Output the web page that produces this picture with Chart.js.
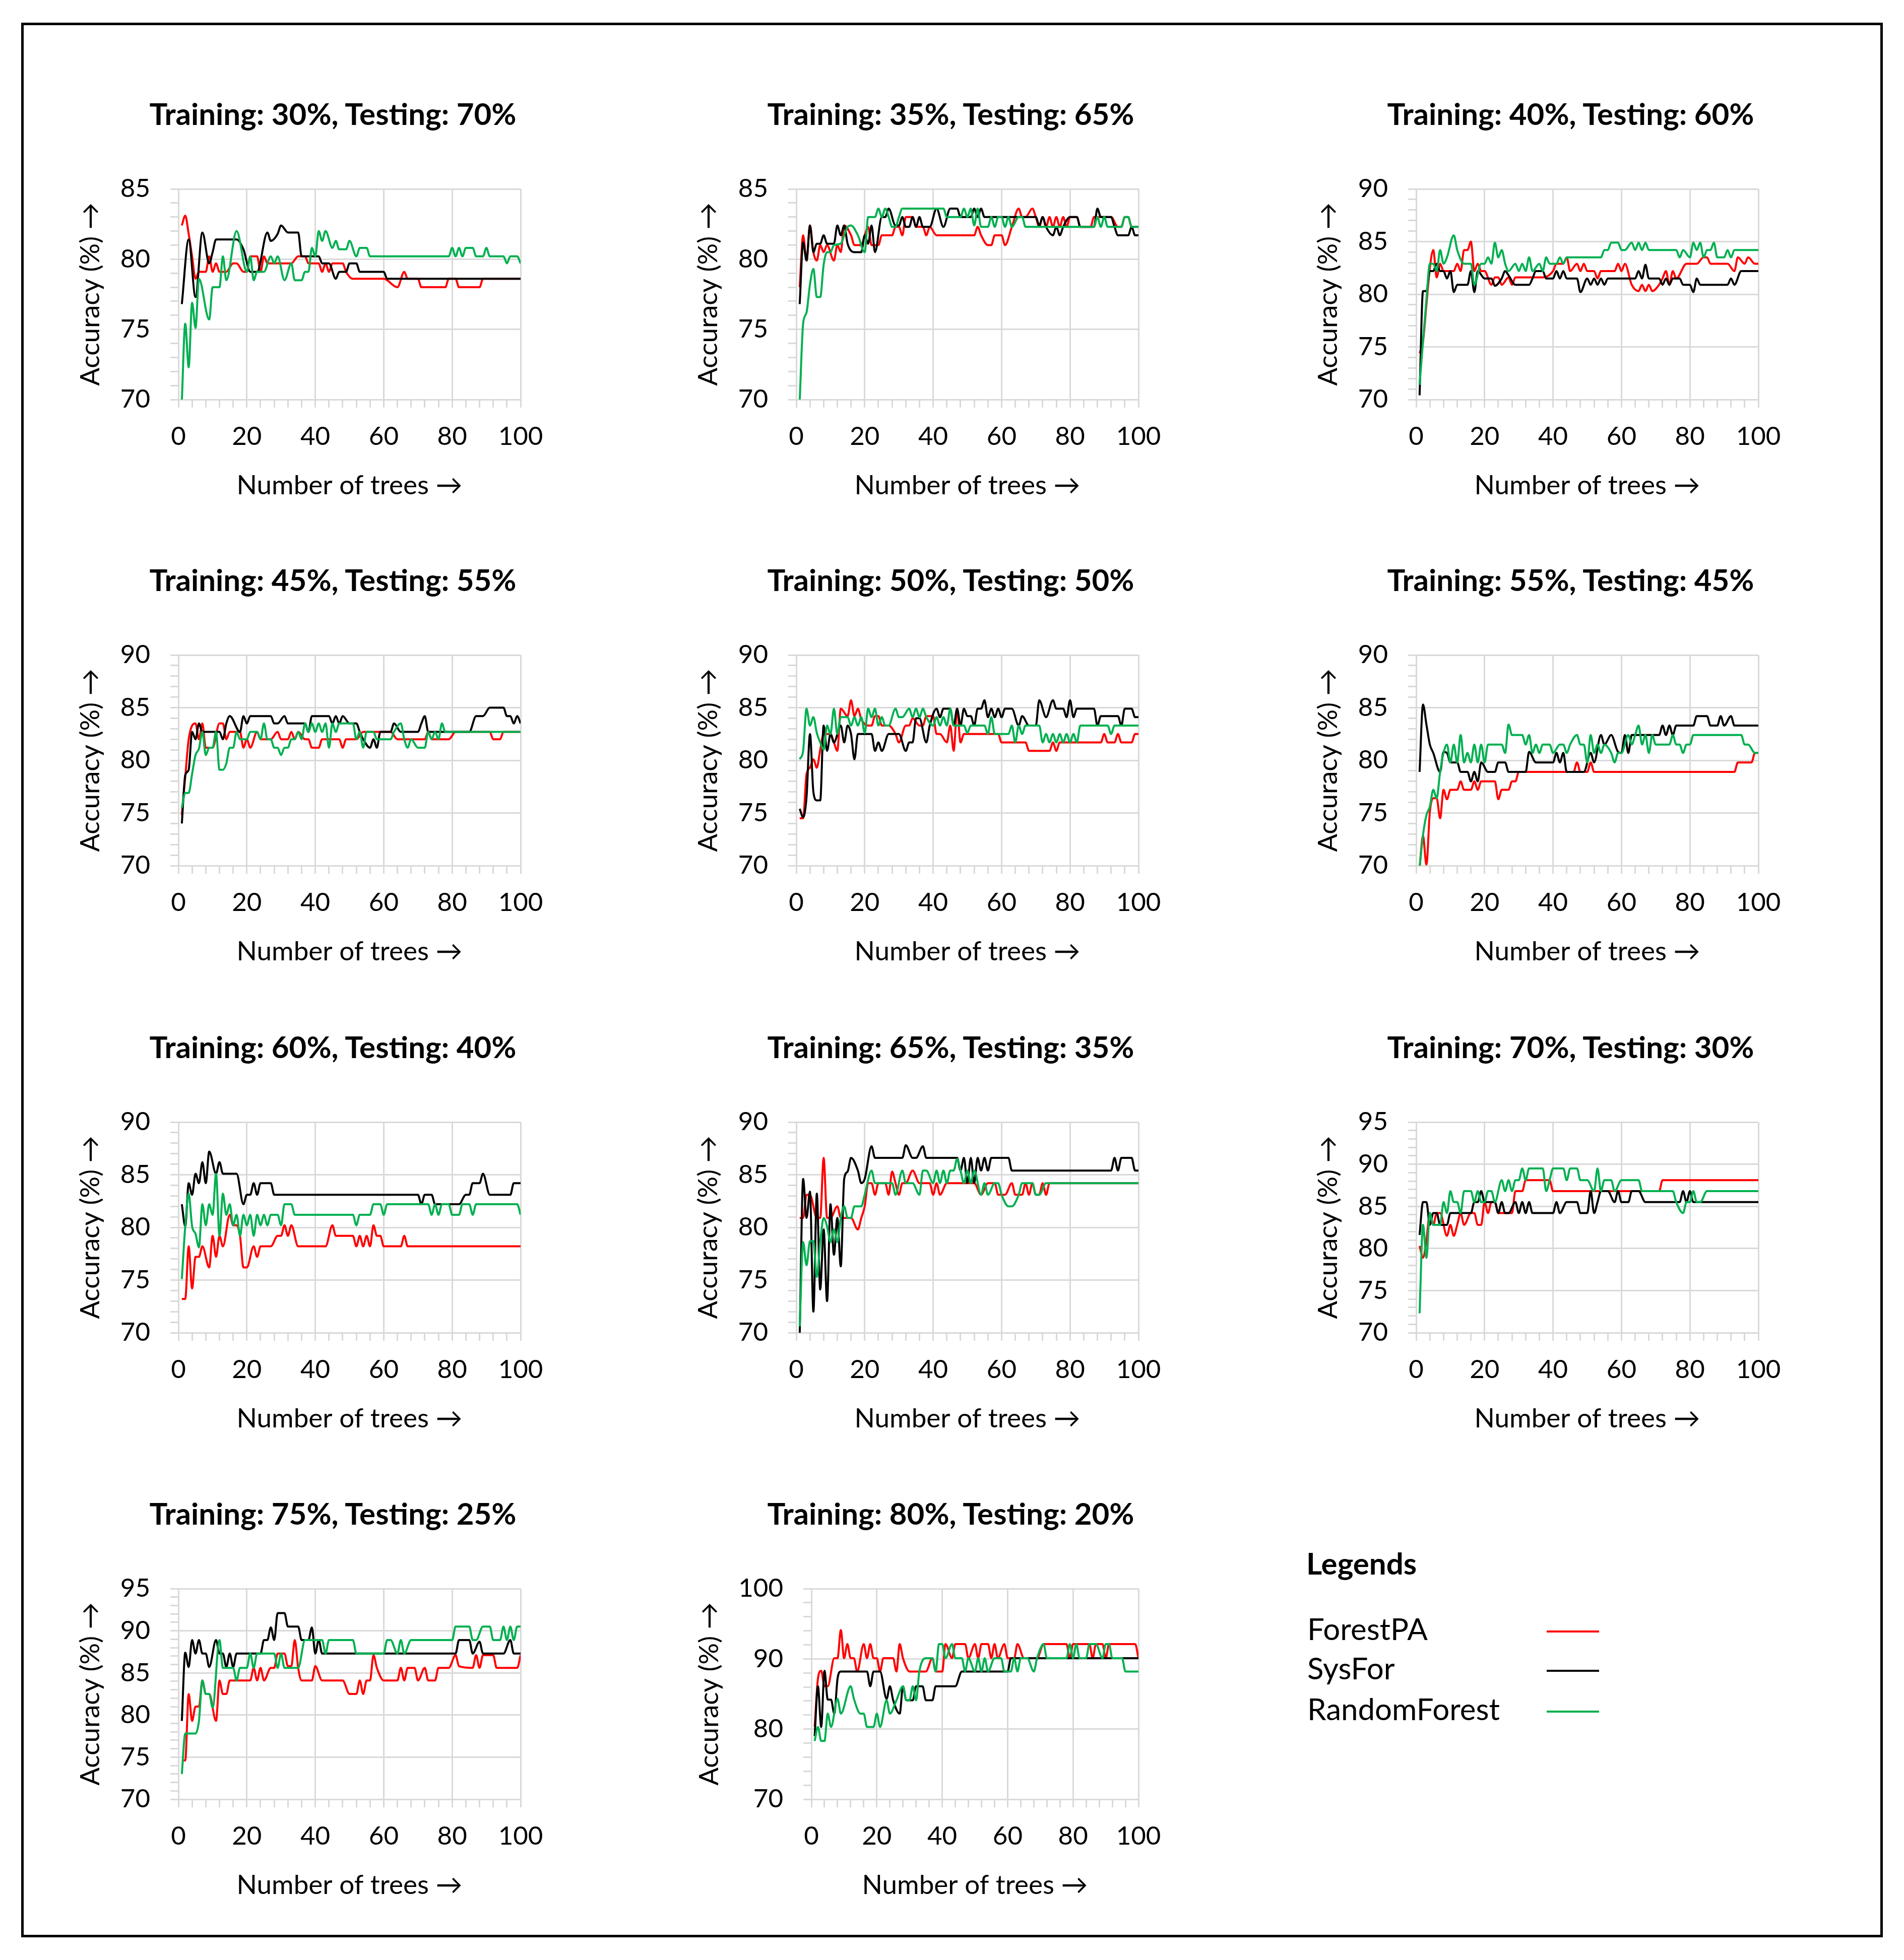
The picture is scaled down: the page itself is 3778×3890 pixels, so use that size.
<!DOCTYPE html>
<html>
<head>
<meta charset="utf-8">
<script src="https://cdn.jsdelivr.net/npm/chart.js@4.4.1/dist/chart.umd.min.js"></script>
<style>
  html, body { margin: 0; padding: 0; background: #fff; }
  body { width: 3778px; height: 3890px; position: relative; overflow: hidden; font-family: Lato, "DejaVu Sans", sans-serif; }
  #frame { position: absolute; left: 42px; top: 45px; width: 3694px; height: 3800px; box-sizing: border-box; border: 5px solid #000; }
  canvas { position: absolute; }
  .ptitle { position: absolute; width: 1000px; text-align: center; font-weight: 700; font-size: 60px; line-height: 72px; color: #000; white-space: nowrap; }
  .lgtext { position: absolute; font-size: 60px; line-height: 72px; color: #000; white-space: nowrap; }
  .lgline { position: absolute; height: 4px; }
</style>
</head>
<body>
<div id="frame"></div>
<script>
// series names and colours
const seriesNames = ["ForestPA", "SysFor", "RandomForest"];
const seriesColors = ["#ff0000", "#000000", "#00b050"];

const splitTitles = [
  "Training: 30%, Testing: 70%", "Training: 35%, Testing: 65%", "Training: 40%, Testing: 60%",
  "Training: 45%, Testing: 55%", "Training: 50%, Testing: 50%", "Training: 55%, Testing: 45%",
  "Training: 60%, Testing: 40%", "Training: 65%, Testing: 35%", "Training: 70%, Testing: 30%",
  "Training: 75%, Testing: 25%", "Training: 80%, Testing: 20%"
];
const yMins = [70, 70, 70, 70, 70, 70, 70, 70, 70, 70, 70];
const yMaxes = [85, 85, 90, 90, 90, 90, 90, 90, 95, 95, 100];
const yMajorSteps = [5, 5, 5, 5, 5, 5, 5, 5, 5, 5, 10];
const yMinorSteps = [1, 1, 1, 1, 1, 1, 1, 1, 1, 1, 2];

// [number of trees, accuracy %]
const forestPA30 = [[1,82.4],[2,83.1],[3,81.8],[4,80.2],[5,78.6],[6,79.1],[8,79.1],[9,80.2],[10,79.1],[11,79.7],[12,79.1],[14,79.1],[16,79.7],[17,79.7],[19,79.1],[20,79.1],[21,80.2],[23,80.2],[24,79.1],[25,80.2],[26,79.7],[33,79.7],[35,80.2],[37,80.2],[38,79.7],[41,79.7],[42,79.1],[43,79.7],[44,79.1],[45,79.7],[48,79.7],[49,79.1],[51,78.6],[60,78.6],[64,78.0],[66,79.1],[67,78.6],[70,78.6],[71,78.0],[78,78.0],[79,78.6],[81,78.6],[82,78.0],[88,78.0],[89,78.6],[100,78.6]];
const sysFor30 = [[1,76.8],[3,81.4],[5,77.3],[7,81.9],[9,79.7],[10,80.5],[11,81.4],[17,81.4],[19,80.7],[21,79.1],[23,79.1],[26,81.9],[27,81.3],[29,81.8],[30,82.4],[32,81.9],[35,81.9],[36,80.2],[41,80.2],[42,79.7],[44,79.7],[46,78.6],[47,79.1],[49,79.1],[50,79.7],[52,79.7],[53,79.1],[60,79.1],[61,78.6],[100,78.6]];
const randomForest30 = [[1,69.9],[2,75.4],[3,72.3],[4,76.9],[5,75.1],[6,78.6],[9,75.7],[10,78.0],[12,78.0],[13,80.2],[14,78.5],[17,82.0],[20,79.1],[21,80.2],[22,78.5],[23,79.1],[25,79.1],[27,80.2],[28,79.7],[29,80.2],[31,78.5],[33,79.7],[34,78.5],[36,78.5],[37,79.1],[38,79.1],[39,80.8],[40,80.2],[41,82.0],[42,81.3],[43,82.0],[45,80.8],[46,81.3],[47,80.7],[49,80.7],[50,81.3],[52,80.2],[53,80.8],[55,80.8],[56,80.2],[79,80.2],[80,80.8],[81,80.2],[82,80.8],[83,80.2],[84,80.8],[86,80.8],[87,80.2],[89,80.2],[90,80.8],[91,80.2],[95,80.2],[96,79.7],[97,80.2],[99,80.2],[100,79.7]];

const forestPA35 = [[1,78.0],[2,81.7],[3,79.9],[4,82.4],[5,80.5],[6,79.9],[7,81.0],[8,80.5],[9,81.0],[11,79.9],[12,81.0],[13,80.5],[14,82.4],[16,81.7],[17,81.0],[19,81.0],[20,81.7],[21,82.3],[22,81.0],[24,81.0],[25,81.7],[28,81.7],[29,82.3],[30,82.3],[31,81.7],[32,83.0],[34,83.0],[35,82.3],[37,82.3],[38,81.7],[39,82.3],[41,81.7],[52,81.7],[53,82.3],[54,81.7],[56,81.0],[57,81.0],[58,81.7],[60,81.7],[61,81.0],[63,82.3],[65,83.6],[66,83.0],[67,83.0],[69,83.6],[70,83.0],[71,82.3],[72,83.0],[73,82.3],[74,83.0],[75,82.3],[76,83.0],[77,82.3],[78,83.0],[79,82.3],[80,83.0],[82,83.0],[83,82.3],[86,82.3],[87,83.0],[92,83.0],[94,82.3],[95,82.3],[96,83.0],[97,83.0],[98,82.3],[100,82.3]];
const sysFor35 = [[1,76.8],[2,81.2],[3,79.9],[4,82.4],[5,80.5],[6,81.1],[7,81.1],[8,81.7],[9,81.1],[11,81.1],[12,82.4],[13,81.7],[14,82.4],[15,81.1],[17,80.5],[19,80.5],[20,81.7],[21,81.1],[22,82.4],[23,80.5],[25,83.0],[26,83.0],[27,83.6],[29,82.4],[30,82.4],[31,83.0],[32,82.3],[33,82.3],[34,83.0],[35,82.3],[36,83.0],[37,82.3],[39,82.3],[41,83.6],[43,82.3],[45,83.6],[47,83.6],[48,83.0],[51,83.0],[52,83.6],[53,83.0],[54,83.6],[55,83.0],[70,83.0],[71,82.4],[72,83.0],[73,82.3],[75,81.7],[76,82.3],[77,81.7],[78,82.3],[80,83.0],[82,83.0],[83,82.3],[87,82.3],[88,83.6],[89,83.0],[92,83.0],[93,82.3],[94,81.7],[97,81.7],[98,82.3],[99,81.7],[100,81.7]];
const randomForest35 = [[1,69.9],[2,75.4],[3,76.2],[4,78.2],[5,79.3],[6,77.3],[7,77.3],[8,79.6],[9,80.5],[10,80.5],[11,81.0],[13,81.1],[14,81.7],[15,82.3],[16,82.4],[18,81.7],[20,80.5],[21,83.0],[23,83.0],[24,83.6],[25,83.0],[26,83.6],[27,83.0],[28,82.3],[29,82.3],[30,83.0],[31,83.6],[43,83.6],[44,83.0],[48,83.0],[49,83.6],[50,83.0],[51,83.6],[52,82.4],[53,83.6],[54,82.3],[56,82.3],[57,83.0],[58,82.3],[59,83.0],[60,83.0],[61,82.3],[62,83.0],[63,82.3],[65,83.0],[66,83.0],[67,82.3],[87,82.3],[88,83.0],[89,82.3],[90,83.0],[91,82.3],[95,82.3],[96,83.0],[97,83.0],[98,82.3],[100,82.3]];

const forestPA40 = [[1,74.4],[2,75.5],[3,79.0],[4,82.5],[5,84.2],[6,81.6],[7,82.9],[8,82.2],[11,82.2],[12,82.9],[13,82.2],[14,84.2],[15,84.2],[16,85.0],[17,82.2],[18,82.9],[19,82.2],[20,82.2],[22,80.9],[23,81.6],[24,81.6],[25,80.9],[27,81.6],[28,80.9],[29,81.6],[37,81.6],[40,82.2],[41,82.9],[43,82.9],[44,83.5],[45,82.2],[47,82.9],[48,82.2],[49,82.9],[50,82.2],[52,82.2],[53,81.5],[54,82.2],[58,82.2],[59,82.9],[60,82.2],[61,82.9],[63,80.9],[65,80.3],[66,80.9],[67,80.3],[68,80.9],[69,80.3],[71,80.9],[72,81.5],[73,82.2],[74,80.9],[75,82.2],[76,81.5],[79,82.9],[82,82.9],[84,83.5],[85,83.5],[86,82.9],[91,82.9],[93,82.2],[94,83.5],[96,82.9],[97,83.5],[99,82.9],[100,82.9]];
const sysFor40 = [[1,70.4],[2,80.3],[3,80.3],[4,82.2],[5,82.2],[6,82.9],[7,82.2],[8,82.2],[9,81.5],[10,82.2],[11,80.2],[12,80.9],[15,80.9],[16,82.2],[17,80.2],[18,82.2],[20,81.5],[22,81.5],[23,80.8],[25,81.5],[26,82.2],[27,81.8],[29,80.9],[33,80.9],[34,81.5],[35,82.2],[37,82.2],[38,81.5],[40,81.5],[41,82.2],[42,81.5],[43,82.2],[44,81.5],[47,81.5],[48,80.2],[50,81.5],[51,80.9],[52,81.5],[53,80.9],[54,81.5],[55,80.9],[56,81.5],[64,81.5],[65,82.2],[66,81.5],[67,82.8],[68,81.5],[71,81.5],[72,80.9],[73,81.5],[74,80.9],[75,81.5],[77,81.5],[78,80.9],[80,80.9],[81,80.2],[82,81.5],[83,80.9],[91,80.9],[92,81.5],[93,80.9],[95,82.2],[100,82.2]];
const randomForest40 = [[1,71.4],[2,75.5],[3,79.5],[4,82.9],[5,82.9],[6,82.2],[7,84.2],[8,82.9],[9,83.5],[11,85.6],[12,84.2],[14,82.9],[16,82.9],[17,80.9],[19,82.9],[20,82.9],[21,83.5],[22,82.9],[23,84.9],[24,83.5],[25,84.2],[26,82.9],[27,82.2],[29,82.9],[30,82.2],[31,82.9],[32,82.2],[33,83.5],[34,82.2],[36,82.9],[37,82.2],[38,83.5],[39,82.9],[41,82.9],[42,83.5],[43,82.9],[44,83.5],[54,83.5],[55,84.2],[56,84.2],[57,84.9],[59,84.9],[60,84.2],[61,84.2],[63,84.9],[64,84.2],[65,84.9],[66,84.2],[67,84.9],[68,84.2],[76,84.2],[77,83.5],[78,84.2],[80,83.5],[81,84.9],[82,84.2],[83,84.9],[84,83.5],[85,84.2],[86,84.2],[87,84.9],[88,83.5],[90,83.5],[91,84.2],[92,83.5],[93,84.2],[100,84.2]];

const forestPA45 = [[1,74.8],[2,78.4],[3,82.0],[5,83.5],[6,82.0],[7,83.5],[8,81.2],[10,81.2],[12,83.5],[13,83.5],[14,82.0],[15,82.7],[18,82.7],[19,81.2],[20,82.0],[21,81.2],[23,82.7],[24,82.0],[27,82.0],[29,82.7],[30,82.0],[32,82.0],[33,82.7],[34,82.0],[35,82.7],[37,82.0],[38,82.0],[39,81.2],[41,81.2],[42,82.0],[47,82.0],[48,81.2],[49,82.0],[52,82.0],[54,82.7],[62,82.7],[64,82.0],[72,82.0],[73,82.7],[74,82.0],[79,82.0],[81,82.7],[91,82.7],[92,82.0],[94,82.0],[95,82.7],[100,82.7]];
const sysFor45 = [[1,74.0],[2,78.6],[3,79.1],[4,82.7],[5,82.0],[6,83.5],[7,82.7],[12,82.7],[13,82.0],[14,83.5],[15,84.2],[18,82.7],[19,84.2],[20,83.5],[21,84.2],[27,84.2],[28,83.5],[29,83.5],[31,84.2],[32,83.5],[37,83.5],[38,82.7],[39,84.2],[44,84.2],[45,83.5],[46,84.2],[47,83.5],[48,84.2],[50,83.5],[52,83.5],[53,82.7],[54,82.0],[56,81.2],[57,82.0],[58,81.2],[59,82.7],[62,82.7],[63,83.5],[65,82.7],[70,82.7],[71,83.5],[72,84.2],[73,82.7],[85,82.7],[87,84.2],[89,84.2],[91,85.0],[95,85.0],[96,84.2],[97,84.2],[98,83.5],[99,84.2],[100,83.5]];
const randomForest45 = [[1,75.5],[2,76.9],[3,76.9],[4,78.7],[5,80.5],[6,81.1],[7,82.7],[8,80.5],[9,81.2],[10,81.2],[11,82.7],[12,79.1],[13,79.1],[14,79.7],[15,81.2],[16,81.2],[17,82.7],[18,82.0],[20,82.0],[21,82.7],[23,82.7],[24,82.0],[25,83.5],[26,82.0],[27,82.0],[28,81.2],[29,81.2],[30,80.5],[31,81.2],[32,81.2],[33,82.0],[34,82.0],[35,82.7],[36,82.0],[37,83.5],[38,82.7],[39,83.5],[40,82.7],[41,83.5],[42,82.7],[43,83.5],[44,81.2],[45,83.5],[46,82.7],[47,83.5],[51,83.5],[52,82.0],[53,82.7],[54,81.2],[55,82.7],[57,82.7],[58,82.0],[62,82.0],[63,82.7],[65,83.5],[66,82.0],[67,81.2],[68,82.0],[70,81.2],[72,81.2],[73,82.7],[74,82.0],[75,82.7],[76,82.0],[77,83.5],[78,82.7],[100,82.7]];

const forestPA50 = [[1,74.5],[2,74.5],[3,78.7],[4,79.3],[5,80.1],[6,79.3],[7,81.0],[8,82.5],[10,82.5],[11,81.7],[12,80.9],[13,84.9],[15,84.2],[16,85.7],[17,84.2],[18,84.9],[19,83.9],[21,83.3],[22,83.3],[23,84.2],[24,84.2],[25,83.3],[27,83.3],[29,82.5],[30,81.7],[32,83.3],[33,83.3],[34,84.0],[36,83.3],[37,83.3],[38,84.2],[40,84.2],[41,82.5],[42,82.5],[44,81.7],[45,83.3],[46,80.9],[47,84.9],[48,81.7],[49,82.5],[59,82.5],[60,81.7],[67,81.7],[68,80.9],[74,80.9],[75,81.7],[76,80.9],[77,81.7],[89,81.7],[90,82.5],[91,81.7],[93,81.7],[94,82.5],[95,81.7],[98,81.7],[99,82.5],[100,82.5]];
const sysFor50 = [[1,75.4],[2,74.6],[3,76.5],[4,82.5],[5,77.0],[6,76.2],[7,76.2],[8,83.3],[9,80.9],[10,82.5],[11,81.7],[13,83.3],[14,81.7],[15,83.3],[16,82.5],[17,80.1],[18,82.5],[22,82.5],[23,80.9],[24,81.7],[25,80.9],[27,82.5],[30,82.5],[32,80.9],[33,81.7],[34,81.7],[35,84.0],[36,84.0],[38,81.7],[39,83.3],[41,84.9],[42,84.1],[43,84.9],[45,84.9],[46,83.3],[47,84.9],[48,83.3],[49,84.9],[50,84.2],[51,84.2],[52,83.3],[53,84.9],[54,84.9],[55,85.7],[56,84.1],[57,84.9],[58,84.1],[59,84.9],[60,84.1],[61,84.9],[63,84.9],[65,83.3],[66,84.2],[68,83.3],[70,83.3],[71,85.7],[73,84.1],[75,85.7],[76,84.9],[78,84.9],[79,84.1],[80,85.7],[81,84.1],[82,84.9],[87,84.9],[88,83.3],[89,84.2],[94,84.2],[95,83.3],[96,84.9],[98,84.9],[99,84.1],[100,84.1]];
const randomForest50 = [[1,80.1],[2,80.9],[3,84.9],[4,83.3],[5,84.1],[6,82.6],[7,81.7],[8,81.0],[9,83.3],[10,82.5],[11,84.9],[12,82.5],[13,84.1],[15,84.1],[16,83.3],[17,84.1],[18,83.3],[19,84.1],[20,82.6],[21,84.9],[22,84.1],[23,84.9],[24,83.3],[25,84.1],[26,83.3],[27,83.3],[29,84.9],[30,84.1],[31,84.1],[33,84.9],[34,84.1],[35,84.9],[36,84.1],[37,84.9],[38,84.1],[40,83.3],[41,84.1],[42,83.3],[43,84.1],[44,83.3],[45,84.9],[46,83.3],[49,83.3],[50,82.6],[51,83.3],[55,83.3],[56,82.5],[57,84.1],[58,82.5],[62,82.5],[63,83.3],[64,81.7],[65,83.3],[66,82.5],[67,83.3],[71,83.3],[72,81.7],[73,82.5],[74,81.7],[75,82.5],[76,81.7],[77,82.5],[78,81.7],[79,82.5],[80,81.7],[81,82.5],[82,81.7],[83,83.3],[91,83.3],[92,82.5],[93,83.3],[100,83.3]];

const forestPA55 = [[1,69.8],[2,72.8],[3,70.1],[4,75.1],[5,76.4],[6,76.4],[7,74.5],[8,77.2],[9,76.3],[10,77.2],[12,77.2],[13,78.0],[14,77.2],[16,77.2],[17,78.0],[18,77.2],[19,78.0],[23,78.0],[24,76.3],[25,77.2],[27,77.2],[28,78.0],[29,78.0],[30,78.9],[46,78.9],[47,79.8],[48,78.9],[50,78.9],[51,79.8],[52,78.9],[93,78.9],[94,79.8],[98,79.8],[99,80.7],[100,80.7]];
const sysFor55 = [[1,78.9],[2,85.3],[3,83.4],[4,81.5],[5,80.7],[7,78.9],[8,80.8],[9,80.7],[10,79.8],[12,79.8],[13,78.9],[15,78.9],[16,78.0],[17,78.9],[18,78.0],[19,79.8],[21,78.9],[23,78.9],[24,79.8],[26,79.8],[27,78.9],[32,78.9],[33,80.8],[35,79.8],[40,79.8],[41,80.7],[42,79.8],[43,80.7],[44,78.9],[49,78.9],[51,80.7],[52,79.8],[54,82.4],[55,81.5],[57,82.4],[59,80.8],[60,80.7],[61,82.4],[62,80.7],[63,82.4],[71,82.4],[72,83.3],[73,82.4],[74,83.3],[75,82.4],[76,83.3],[81,83.3],[82,84.2],[85,84.2],[86,83.3],[88,83.3],[89,84.2],[90,83.3],[92,84.2],[93,83.3],[100,83.3]];
const randomForest55 = [[1,69.8],[2,72.9],[3,74.8],[4,75.6],[5,77.2],[6,76.4],[7,78.9],[8,80.7],[9,81.5],[10,79.8],[11,81.5],[12,79.8],[13,82.4],[14,79.8],[15,80.7],[16,79.8],[17,81.5],[18,79.8],[19,81.5],[20,79.8],[21,81.5],[25,81.5],[26,80.7],[27,83.4],[28,82.4],[31,82.4],[32,81.5],[33,82.4],[34,80.7],[35,81.5],[36,80.7],[37,81.5],[39,81.5],[40,80.7],[42,81.5],[43,81.5],[44,80.7],[45,81.5],[47,82.4],[48,81.5],[49,81.5],[50,79.8],[51,82.4],[52,80.7],[53,81.5],[54,80.7],[55,81.5],[57,80.7],[58,79.8],[59,80.7],[60,80.7],[62,82.4],[63,81.5],[64,82.4],[65,83.3],[66,81.5],[67,82.4],[68,80.7],[69,82.4],[70,81.5],[74,81.5],[75,82.4],[76,81.5],[77,81.5],[78,80.7],[79,81.5],[80,81.5],[81,82.4],[95,82.4],[96,81.5],[97,81.5],[99,80.7],[100,80.7]];

const forestPA60 = [[1,73.2],[2,73.2],[3,78.2],[4,74.2],[5,77.2],[6,77.2],[7,78.2],[9,76.2],[10,79.2],[11,77.2],[12,79.2],[13,78.2],[15,81.2],[16,80.2],[17,80.2],[18,79.2],[19,76.2],[20,76.2],[22,78.2],[23,77.2],[24,78.2],[27,78.2],[29,79.2],[30,79.2],[31,80.2],[32,79.2],[33,80.2],[35,78.2],[43,78.2],[45,80.2],[46,79.2],[51,79.2],[52,78.2],[53,79.2],[54,78.2],[55,79.2],[56,78.2],[57,80.2],[58,79.2],[59,79.2],[60,78.2],[65,78.2],[66,79.2],[67,78.2],[100,78.2]];
const sysFor60 = [[1,82.2],[2,80.1],[3,84.2],[4,83.1],[5,85.1],[6,84.2],[7,86.2],[8,84.2],[9,87.2],[11,85.1],[12,86.2],[13,85.1],[17,85.1],[19,82.2],[20,83.1],[21,83.1],[22,84.2],[23,83.1],[24,84.2],[27,84.2],[28,83.1],[70,83.1],[71,82.2],[72,83.1],[74,83.1],[75,82.2],[82,82.2],[84,83.1],[85,83.1],[86,84.2],[88,84.2],[89,85.1],[91,83.1],[97,83.1],[98,84.2],[100,84.2]];
const randomForest60 = [[1,75.1],[2,80.1],[3,83.2],[4,80.1],[5,79.4],[6,78.1],[7,82.2],[8,80.2],[9,82.2],[10,81.2],[11,85.1],[12,79.2],[13,83.2],[14,81.2],[15,82.2],[16,80.2],[17,81.2],[18,79.2],[19,81.2],[20,80.2],[21,81.2],[22,79.2],[23,81.2],[24,80.2],[25,81.2],[26,80.2],[27,81.2],[29,81.2],[30,80.2],[31,82.2],[33,82.2],[34,81.2],[51,81.2],[52,80.2],[53,81.2],[56,81.2],[57,82.2],[59,82.2],[60,81.2],[61,82.2],[73,82.2],[74,81.2],[75,82.2],[76,81.2],[77,82.2],[79,82.2],[80,81.2],[82,81.2],[83,82.2],[85,82.2],[86,81.2],[87,82.2],[99,82.2],[100,81.2]];

const forestPA65 = [[1,80.9],[2,80.9],[3,83.1],[4,83.1],[6,80.9],[7,80.9],[8,86.6],[9,80.9],[10,80.9],[12,82.0],[13,80.9],[16,80.9],[18,79.8],[19,80.9],[20,82.0],[21,84.2],[22,84.2],[23,83.1],[24,84.2],[26,84.2],[27,83.1],[28,85.3],[29,84.2],[30,83.1],[31,84.2],[32,84.2],[34,85.4],[36,84.2],[39,84.2],[40,83.1],[41,84.2],[42,83.1],[44,84.2],[52,84.2],[54,83.1],[56,84.2],[58,84.2],[59,83.1],[61,83.1],[63,84.2],[64,83.1],[66,83.1],[67,84.2],[68,83.1],[69,84.2],[70,83.1],[71,83.1],[72,84.2],[73,83.1],[74,84.2],[100,84.2]];
const sysFor65 = [[1,69.8],[2,84.6],[3,80.9],[4,83.4],[5,72.0],[6,83.2],[7,74.1],[8,79.8],[9,73.0],[10,82.2],[11,77.4],[12,80.9],[13,76.3],[14,84.6],[15,85.3],[16,86.6],[18,85.4],[19,84.2],[20,84.6],[22,87.7],[23,86.6],[31,86.6],[32,87.8],[34,86.6],[35,86.6],[37,87.7],[38,86.6],[47,86.6],[48,85.4],[49,86.6],[50,84.2],[51,86.6],[52,84.2],[53,86.6],[54,85.4],[55,86.6],[56,85.4],[57,86.6],[62,86.6],[63,85.4],[92,85.4],[93,86.6],[94,85.4],[95,86.6],[98,86.6],[99,85.4],[100,85.4]];
const randomForest65 = [[1,70.6],[2,78.6],[3,76.4],[4,78.7],[5,78.7],[6,75.3],[7,78.6],[8,80.9],[9,80.1],[10,78.6],[11,79.8],[12,78.6],[13,80.9],[14,82.0],[15,80.9],[16,80.9],[17,82.0],[19,82.0],[20,83.1],[22,85.4],[23,84.2],[28,84.2],[29,83.1],[31,85.4],[32,84.2],[34,84.2],[36,83.1],[37,85.4],[38,85.4],[40,84.2],[41,85.4],[42,84.2],[43,85.4],[44,84.2],[45,85.4],[46,85.4],[47,86.5],[48,85.4],[49,84.2],[50,85.4],[51,84.2],[52,85.4],[54,83.1],[55,84.2],[56,83.1],[58,84.2],[59,84.2],[60,83.1],[62,82.0],[63,82.0],[65,83.1],[66,84.2],[69,84.2],[70,83.1],[71,83.1],[73,84.2],[100,84.2]];

const forestPA70 = [[1,80.3],[2,78.9],[3,81.0],[4,84.2],[5,82.8],[6,84.2],[7,84.2],[9,81.5],[10,82.8],[11,81.5],[12,82.8],[13,84.2],[14,82.8],[16,84.2],[17,84.2],[18,82.8],[19,82.8],[20,85.5],[21,84.2],[22,85.5],[23,85.5],[24,84.2],[28,84.2],[29,86.8],[31,86.8],[32,88.1],[39,88.1],[40,86.8],[71,86.8],[72,88.1],[100,88.1]];
const sysFor70 = [[1,81.6],[2,85.5],[3,85.5],[4,82.8],[5,84.2],[6,84.2],[7,82.8],[9,82.8],[10,84.2],[16,84.2],[17,85.5],[18,85.5],[19,86.8],[20,85.5],[23,85.5],[24,84.2],[25,85.5],[26,84.2],[27,84.2],[29,85.5],[30,84.2],[31,85.5],[32,84.2],[33,85.5],[34,84.2],[40,84.2],[41,85.5],[42,84.2],[44,85.5],[47,85.5],[48,84.2],[50,84.2],[51,86.8],[52,84.2],[53,85.5],[54,86.8],[56,86.8],[58,85.5],[59,86.8],[60,85.5],[62,85.5],[63,86.8],[65,86.8],[67,85.5],[77,85.5],[78,86.8],[79,85.5],[80,86.8],[81,85.5],[100,85.5]];
const randomForest70 = [[1,72.3],[2,82.8],[3,78.9],[4,84.2],[5,82.8],[7,82.8],[8,85.5],[9,84.2],[10,86.8],[11,85.5],[12,85.5],[13,84.2],[14,86.8],[16,86.8],[17,85.5],[18,86.8],[19,85.5],[20,85.5],[21,86.8],[22,86.8],[23,85.5],[25,88.1],[26,86.8],[27,88.1],[28,86.8],[29,88.1],[30,88.1],[31,89.5],[32,88.1],[33,89.5],[37,89.5],[38,86.8],[39,88.1],[40,89.5],[43,89.5],[44,88.1],[45,89.5],[47,89.5],[48,88.1],[50,88.1],[52,86.8],[53,89.5],[54,86.8],[55,88.1],[57,88.1],[58,86.8],[60,88.1],[65,88.1],[66,86.8],[75,86.8],[76,85.5],[78,84.2],[79,85.5],[80,85.5],[81,86.8],[82,85.5],[83,85.5],[85,86.8],[100,86.8]];

const forestPA75 = [[1,74.6],[2,74.6],[3,82.5],[4,79.3],[5,81.0],[6,81.0],[7,84.1],[8,82.5],[9,82.5],[11,79.3],[12,84.1],[13,82.5],[14,82.5],[15,84.1],[21,84.1],[22,85.6],[23,84.1],[24,85.6],[25,84.1],[27,85.6],[28,85.6],[29,87.3],[31,87.3],[32,85.8],[33,85.8],[34,88.9],[35,85.6],[36,84.1],[39,84.1],[40,85.8],[42,84.1],[48,84.1],[50,82.5],[52,82.5],[53,84.1],[54,82.5],[55,84.1],[56,84.1],[57,87.1],[58,85.6],[60,84.1],[64,84.1],[65,85.6],[66,84.1],[67,85.6],[69,85.6],[70,84.1],[72,85.6],[73,84.1],[75,84.1],[76,85.6],[79,85.6],[81,87.1],[82,85.8],[86,85.6],[87,87.1],[88,85.6],[89,87.1],[92,87.1],[93,85.6],[99,85.6],[100,87.1]];
const sysFor75 = [[1,79.3],[2,87.4],[3,85.7],[4,88.9],[5,87.3],[6,88.9],[7,87.3],[8,87.3],[9,85.7],[11,88.9],[12,87.3],[13,87.3],[14,85.7],[15,87.3],[16,85.7],[17,87.3],[24,87.3],[25,88.9],[26,88.9],[27,90.4],[28,88.9],[29,92.1],[31,92.1],[32,90.5],[35,90.5],[36,88.9],[38,88.9],[39,90.4],[40,87.3],[41,88.9],[42,87.3],[81,87.3],[82,88.9],[85,88.9],[86,87.3],[88,88.7],[89,87.3],[95,87.3],[97,88.9],[98,87.3],[100,87.3]];
const randomForest75 = [[1,73.0],[2,77.8],[5,77.8],[6,79.3],[7,84.1],[8,82.5],[9,82.5],[10,80.9],[12,88.9],[13,85.6],[16,85.6],[17,84.1],[18,85.6],[20,85.6],[21,87.3],[22,85.6],[23,87.3],[28,87.3],[29,85.6],[30,87.3],[31,85.6],[35,85.6],[37,88.9],[42,88.9],[43,87.3],[44,88.9],[51,88.9],[52,87.3],[60,87.3],[61,88.9],[62,88.9],[64,87.3],[65,88.9],[66,87.3],[68,88.9],[80,88.9],[81,90.5],[85,90.5],[86,88.9],[87,88.9],[89,90.5],[91,90.5],[92,88.9],[94,88.9],[95,90.5],[96,88.9],[97,90.5],[98,88.9],[99,90.5],[100,90.5]];

const forestPA80 = [[1,80.3],[2,87.2],[3,88.3],[4,86.1],[5,86.1],[7,90.1],[8,90.1],[9,94.1],[10,90.1],[11,92.1],[12,90.1],[13,90.1],[14,88.2],[16,92.1],[17,90.1],[18,92.1],[19,90.1],[20,90.1],[21,88.2],[22,90.1],[25,90.1],[26,88.2],[27,92.1],[28,90.1],[30,88.2],[35,88.2],[37,90.1],[38,88.2],[40,88.2],[41,92.1],[43,90.1],[44,92.1],[47,92.1],[48,90.1],[50,92.1],[51,90.1],[52,92.1],[54,92.1],[55,90.1],[56,92.1],[57,90.1],[59,92.1],[60,90.1],[62,90.1],[63,92.1],[65,90.1],[69,90.1],[71,92.1],[78,92.1],[79,90.1],[80,92.1],[85,92.1],[86,90.1],[87,92.1],[89,92.1],[90,90.1],[91,92.1],[99,92.1],[100,90.1]];
const sysFor80 = [[1,79.0],[2,86.1],[3,80.3],[4,88.3],[5,84.2],[6,84.2],[7,82.2],[8,87.2],[9,88.2],[17,88.2],[18,86.1],[19,88.2],[21,88.2],[23,84.3],[24,86.1],[25,84.1],[27,82.2],[28,86.1],[29,84.1],[31,84.1],[32,86.1],[34,86.1],[35,84.1],[37,84.1],[38,86.1],[44,86.1],[46,88.2],[55,88.2],[60,88.2],[61,90.1],[100,90.1]];
const randomForest80 = [[1,78.3],[2,80.3],[3,78.3],[4,78.3],[5,82.2],[6,80.3],[8,84.3],[9,82.2],[12,86.1],[13,84.3],[15,82.2],[16,82.2],[17,80.3],[19,80.3],[20,82.2],[21,80.3],[23,84.1],[24,82.2],[26,84.1],[28,86.1],[29,84.1],[30,84.1],[31,86.1],[32,84.1],[33,88.2],[35,90.1],[37,90.1],[38,88.2],[39,92.1],[40,92.1],[41,90.1],[43,92.1],[44,90.1],[46,90.1],[47,88.2],[48,90.1],[50,88.2],[51,90.1],[52,88.2],[53,90.1],[54,88.2],[56,90.1],[58,90.1],[59,88.2],[61,88.2],[62,90.1],[63,88.2],[64,90.1],[66,90.1],[68,88.2],[69,90.1],[71,92.1],[72,90.1],[78,90.1],[79,92.1],[80,90.1],[81,92.1],[82,90.1],[84,90.1],[85,92.1],[87,92.1],[89,90.1],[90,92.1],[91,92.1],[92,90.1],[95,90.1],[96,88.2],[100,88.2]];

const panelSeries = [
  [forestPA30, sysFor30, randomForest30],
  [forestPA35, sysFor35, randomForest35],
  [forestPA40, sysFor40, randomForest40],
  [forestPA45, sysFor45, randomForest45],
  [forestPA50, sysFor50, randomForest50],
  [forestPA55, sysFor55, randomForest55],
  [forestPA60, sysFor60, randomForest60],
  [forestPA65, sysFor65, randomForest65],
  [forestPA70, sysFor70, randomForest70],
  [forestPA75, sysFor75, randomForest75],
  [forestPA80, sysFor80, randomForest80]
];

// page layout (pixels)
const colLeft = [354, 1580, 2810];
const rowTop = [375, 1300, 2227, 3153];
const plotW = 679, plotH = 418;
// generous padding so tick-label overflow never moves the plot area
const padTop = 90, padRight = 100, xAxisH = 203;
const gridGray = "#d9d9d9";
const fontFamily = 'Lato, "DejaVu Sans", sans-serif';

function stepTicks(min, max, step) {
  const out = [];
  for (let v = min; v <= max + 1e-9; v += step) out.push({ value: v });
  return out;
}

function makePanel(i) {
  const col = i % 3, row = Math.floor(i / 3);
  const wideLabels = yMaxes[i] >= 100;
  const plotLeft = colLeft[col] + (wideLabels ? 30 : 0);
  const plotRight = colLeft[col] + plotW;
  const yAxisW = wideLabels ? 234 : 206;
  const left = plotLeft - yAxisW;
  const top = rowTop[row] - padTop;
  const width = plotRight + padRight - left;
  const height = padTop + plotH + xAxisH;

  const t = document.createElement("div");
  t.className = "ptitle";
  t.textContent = splitTitles[i];
  t.style.left = (colLeft[col] + plotW / 2 - 33 - 500) + "px";
  t.style.top = (rowTop[row] - 150 - 36) + "px";
  document.body.appendChild(t);

  const cv = document.createElement("canvas");
  cv.width = width;
  cv.height = height;
  cv.style.left = left + "px";
  cv.style.top = top + "px";
  cv.style.width = width + "px";
  cv.style.height = height + "px";
  document.body.appendChild(cv);

  const major = yMajorSteps[i];
  const datasets = panelSeries[i].map((pts, s) => ({
    label: seriesNames[s],
    data: pts.map(p => ({ x: p[0], y: p[1] })),
    borderColor: seriesColors[s],
    backgroundColor: seriesColors[s],
    borderWidth: 4,
    pointRadius: 0,
    fill: false,
    cubicInterpolationMode: "monotone",
    order: 3 - s
  }));

  new Chart(cv.getContext("2d"), {
    type: "line",
    data: { datasets },
    options: {
      responsive: false,
      animation: false,
      devicePixelRatio: 1,
      parsing: false,
      layout: { padding: { top: padTop, right: padRight, left: 0, bottom: 0 } },
      plugins: { legend: { display: false }, tooltip: { enabled: false } },
      scales: {
        x: {
          type: "linear",
          min: 0,
          max: 100,
          afterBuildTicks: sc => { sc.ticks = stepTicks(0, 100, 4); },
          afterFit: sc => { sc.height = xAxisH; },
          ticks: {
            autoSkip: false,
            maxRotation: 0,
            padding: 27,
            color: "#000",
            font: { family: fontFamily, size: 51 },
            callback: v => (v % 20 === 0 ? String(v) : "")
          },
          grid: {
            color: c => (c.tick && c.tick.value % 20 === 0 ? gridGray : "rgba(0,0,0,0)"),
            lineWidth: 3,
            tickColor: gridGray,
            tickWidth: 3,
            tickLength: 16
          },
          border: { color: gridGray, width: 3 },
          title: {
            display: true,
            text: "Number of trees →",
            color: "#000",
            font: { family: fontFamily, size: 53 },
            padding: { top: 0, bottom: 0 }
          }
        },
        y: {
          type: "linear",
          min: yMins[i],
          max: yMaxes[i],
          afterBuildTicks: sc => { sc.ticks = stepTicks(yMins[i], yMaxes[i], yMinorSteps[i]); },
          afterFit: sc => { sc.width = yAxisW; },
          ticks: {
            autoSkip: false,
            padding: 40,
            color: "#000",
            font: { family: fontFamily, size: 51 },
            callback: v => (v % major === 0 ? String(v) : "")
          },
          grid: {
            color: c => (c.tick && c.tick.value % major === 0 ? gridGray : "rgba(0,0,0,0)"),
            lineWidth: 3,
            tickColor: gridGray,
            tickWidth: 3,
            tickLength: 16
          },
          border: { color: gridGray, width: 3 },
          title: {
            display: true,
            text: "Accuracy (%) →",
            color: "#000",
            font: { family: fontFamily, size: 53 },
            padding: { top: 0, bottom: 0 }
          }
        }
      }
    }
  });
}

for (let i = 0; i < splitTitles.length; i++) makePanel(i);

// legend block in the empty cell
const head = document.createElement("div");
head.className = "lgtext";
head.style.fontWeight = "700";
head.style.left = "2592px";
head.style.top = (3102 - 36) + "px";
head.textContent = "Legends";
document.body.appendChild(head);

const legendY = [3238, 3316, 3397];
seriesNames.forEach((name, s) => {
  const tx = document.createElement("div");
  tx.className = "lgtext";
  tx.style.left = "2594px";
  tx.style.top = (legendY[s] - 42) + "px";
  tx.textContent = name;
  document.body.appendChild(tx);
  const ln = document.createElement("div");
  ln.className = "lgline";
  ln.style.left = "3069px";
  ln.style.width = "104px";
  ln.style.top = (legendY[s] - 2) + "px";
  ln.style.background = seriesColors[s];
  document.body.appendChild(ln);
});
</script>
</body>
</html>
